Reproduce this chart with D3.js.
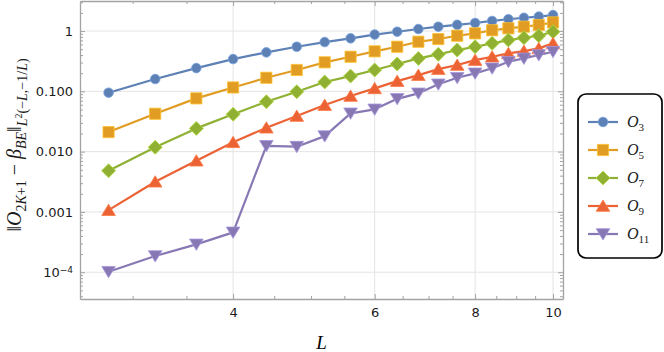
<!DOCTYPE html>
<html>
<head>
<meta charset="utf-8">
<script src="https://cdn.jsdelivr.net/npm/d3@7"></script>
<style>
  body { margin: 0; background: #fff; }
  svg { display: block; }
</style>
</head>
<body>
<div id="chartDiv"></div>
<script>
// system sizes
var L_vals = [2.8, 3.2, 3.6, 4.0, 4.4, 4.8, 5.2, 5.6, 6.0, 6.4, 6.8, 7.2, 7.6, 8.0, 8.4, 8.8, 9.2, 9.6, 10.0];

// error norms
var O3  = [0.095, 0.160, 0.243, 0.343, 0.443, 0.549, 0.657, 0.757, 0.875, 0.974, 1.08, 1.18, 1.27, 1.36, 1.47, 1.57, 1.66, 1.74, 1.84];
var O5  = [0.0211, 0.0425, 0.0765, 0.116, 0.168, 0.226, 0.303, 0.375, 0.461, 0.549, 0.665, 0.737, 0.836, 0.916, 1.03, 1.11, 1.18, 1.26, 1.39];
var O7  = [0.00482, 0.0118, 0.0243, 0.0416, 0.0672, 0.0985, 0.143, 0.179, 0.226, 0.284, 0.352, 0.411, 0.484, 0.549, 0.625, 0.709, 0.774, 0.836, 0.974];
var O9  = [0.00107, 0.00317, 0.00707, 0.0143, 0.0249, 0.0389, 0.0592, 0.0835, 0.112, 0.148, 0.186, 0.234, 0.273, 0.330, 0.375, 0.427, 0.466, 0.516, 0.625];
var O11 = [0.000102, 0.000186, 0.000290, 0.000459, 0.0125, 0.0121, 0.0181, 0.0432, 0.0503, 0.0751, 0.0927, 0.131, 0.168, 0.199, 0.241, 0.310, 0.352, 0.400, 0.454];

var seriesSubs = ["3", "5", "7", "9", "11"];
var seriesColors = ["#5e81b5", "#e19c24", "#8fb032", "#eb6235", "#8778b3"];

var xTicks = [4, 6, 8, 10];
var xMinorTicks = [3, 3.5, 4.5, 5, 5.5, 6.5, 7, 7.5, 8.5, 9, 9.5];
var yTicks = [1, 0.1, 0.01, 0.001, 1e-4];
var yTickLabels = ["1", "0.100", "0.010", "0.001", "10-4"];

var allSeries = [O3, O5, O7, O9, O11];

var width = 664, height = 352;
var margin = {top: 1, right: 101, bottom: 53, left: 80};

var svg = d3.select("#chartDiv").append("svg")
    .attr("width", width)
    .attr("height", height);

var x_scale = d3.scaleLog()
    .domain([2.58, 10.29])
    .range([margin.left, width - margin.right]);

var y_scale = d3.scaleLog()
    .domain([3.6e-5, 3.15])
    .range([height - margin.bottom, margin.top]);

// minor y ticks (2..9 per decade)
var yMinorTicks = [];
for (var e = -5; e <= 0; e++) {
  for (var m = 2; m <= 9; m++) {
    var v = m * Math.pow(10, e);
    if (v > 3.6e-5 && v < 3.15) yMinorTicks.push(v);
  }
}

var x0 = margin.left, x1 = width - margin.right;
var y0 = height - margin.bottom, y1 = margin.top;

// grid
var grid = svg.append("g").attr("class", "grid");
grid.selectAll(".gx").data(xTicks).enter().append("line")
    .attr("x1", function(d){ return x_scale(d); })
    .attr("x2", function(d){ return x_scale(d); })
    .attr("y1", y0).attr("y2", y1)
    .attr("stroke", "#e4e4e4").attr("stroke-width", 1);
grid.selectAll(".gy").data(yTicks).enter().append("line")
    .attr("y1", function(d){ return y_scale(d); })
    .attr("y2", function(d){ return y_scale(d); })
    .attr("x1", x0).attr("x2", x1)
    .attr("stroke", "#e4e4e4").attr("stroke-width", 1);

// frame axes
var frameColor = "#a3a3a3";
function styleAxis(g) {
  g.select(".domain").attr("stroke", frameColor).attr("stroke-width", 1.3);
  g.selectAll(".tick line").attr("stroke", frameColor).attr("stroke-width", 1);
  g.selectAll(".tick text").attr("fill", "#1a1a1a")
      .style("font-family", "'DejaVu Sans', sans-serif").style("font-size", "13px");
}

var xBottom = svg.append("g").attr("transform", "translate(0," + y0 + ")")
    .call(d3.axisBottom(x_scale).tickValues(xTicks).tickSize(-5).tickPadding(9)
      .tickFormat(d3.format("d")).tickSizeOuter(0));
styleAxis(xBottom);
svg.append("g").attr("transform", "translate(0," + y0 + ")")
    .call(d3.axisBottom(x_scale).tickValues(xMinorTicks).tickSize(-3).tickFormat(""))
    .call(function(g){ g.select(".domain").remove(); styleAxis(g); });

var xTop = svg.append("g").attr("transform", "translate(0," + y1 + ")")
    .call(d3.axisTop(x_scale).tickValues(xTicks).tickSize(-5).tickFormat("").tickSizeOuter(0));
styleAxis(xTop);
svg.append("g").attr("transform", "translate(0," + y1 + ")")
    .call(d3.axisTop(x_scale).tickValues(xMinorTicks).tickSize(-3).tickFormat(""))
    .call(function(g){ g.select(".domain").remove(); styleAxis(g); });

var yLeft = svg.append("g").attr("transform", "translate(" + x0 + ",0)")
    .call(d3.axisLeft(y_scale).tickValues(yTicks).tickSize(-5).tickPadding(7)
      .tickFormat(function(d, i){ return yTickLabels[i]; }).tickSizeOuter(0));
styleAxis(yLeft);
svg.append("g").attr("transform", "translate(" + x0 + ",0)")
    .call(d3.axisLeft(y_scale).tickValues(yMinorTicks).tickSize(-3).tickFormat(""))
    .call(function(g){ g.select(".domain").remove(); styleAxis(g); });

var yRight = svg.append("g").attr("transform", "translate(" + x1 + ",0)")
    .call(d3.axisRight(y_scale).tickValues(yTicks).tickSize(-5).tickFormat("").tickSizeOuter(0));
styleAxis(yRight);
svg.append("g").attr("transform", "translate(" + x1 + ",0)")
    .call(d3.axisRight(y_scale).tickValues(yMinorTicks).tickSize(-3).tickFormat(""))
    .call(function(g){ g.select(".domain").remove(); styleAxis(g); });

// 10^-4 label with superscript
yLeft.selectAll(".tick text").each(function(d, i) {
  var lab = yTickLabels[i];
  if (lab.indexOf("-") > 0) {
    var t = d3.select(this).text("");
    t.append("tspan").text("10");
    t.append("tspan").text("\u2212" + lab.split("-")[1])
      .attr("dy", "-0.45em").style("font-size", "9px");
  }
});

// markers
var markerPaths = [
  d3.symbol(d3.symbolCircle, 72)(),
  "M-5.6,-5.6H5.6V5.6H-5.6Z",
  "M0,-7L7,0L0,7L-7,0Z",
  "M0,-6L6.8,5.3L-6.8,5.3Z",
  "M0,6L6.8,-5.3L-6.8,-5.3Z"
];

var line = d3.line()
    .x(function(d){ return x_scale(d[0]); })
    .y(function(d){ return y_scale(d[1]); });

var chart_g = svg.append("g").attr("class", "series");
allSeries.forEach(function(vals, si) {
  var pts = L_vals.map(function(l, i){ return [l, vals[i]]; });
  var g = chart_g.append("g");
  g.append("path").datum(pts)
      .attr("d", line)
      .attr("fill", "none")
      .attr("stroke", seriesColors[si])
      .attr("stroke-width", 2.2)
      .attr("stroke-linejoin", "round");
  g.selectAll(".pt").data(pts).enter().append("path")
      .attr("d", markerPaths[si])
      .attr("transform", function(d){ return "translate(" + x_scale(d[0]) + "," + y_scale(d[1]) + ")"; })
      .attr("fill", seriesColors[si])
      .attr("stroke", d3.color(seriesColors[si]).brighter(0.6))
      .attr("stroke-width", 0.8);
});

// axis titles
svg.append("text")
    .attr("x", (x0 + x1) / 2).attr("y", 349)
    .attr("text-anchor", "middle")
    .style("font-family", "'Liberation Serif', serif")
    .style("font-style", "italic").style("font-size", "19px")
    .text("L");

var yl = svg.append("text")
    .attr("transform", "translate(21,145) rotate(-90)")
    .attr("text-anchor", "middle")
    .style("font-family", "'Liberation Serif', serif")
    .style("font-size", "20px")
    .attr("fill", "#1a1a1a");
yl.append("tspan").text("\u2016");
yl.append("tspan").text("O").style("font-style", "italic");
yl.append("tspan").text("2").attr("dy", 5).style("font-size", "14px");
yl.append("tspan").text("K").style("font-size", "14px").style("font-style", "italic");
yl.append("tspan").text("+1").style("font-size", "14px");
yl.append("tspan").text(" \u2212 ").attr("dy", -5);
yl.append("tspan").text("\u03b2").style("font-style", "italic");
yl.append("tspan").text("BE").attr("dy", 5).style("font-size", "14px").style("font-style", "italic");
yl.append("tspan").text("\u2016").attr("dy", -5);
yl.append("tspan").text("L").attr("dy", 6).style("font-size", "14px").style("font-style", "italic");
yl.append("tspan").text("2").attr("dy", -5).style("font-size", "10px");
yl.append("tspan").text("(\u2212").attr("dy", 5).style("font-size", "14px");
yl.append("tspan").text("L").style("font-size", "14px").style("font-style", "italic");
yl.append("tspan").text(",\u22121/").style("font-size", "14px");
yl.append("tspan").text("L").style("font-size", "14px").style("font-style", "italic");
yl.append("tspan").text(")").style("font-size", "14px");

// legend
var legend = svg.append("g").attr("class", "legend");
legend.append("rect")
    .attr("x", 578).attr("y", 94).attr("width", 84).attr("height", 164)
    .attr("rx", 8).attr("ry", 8)
    .attr("fill", "#fff").attr("stroke", "#000").attr("stroke-width", 1.7);

var legendY = d3.scalePoint().domain(seriesSubs).range([122, 234]);
seriesSubs.forEach(function(s, si) {
  var ly = legendY(s);
  legend.append("line")
      .attr("x1", 588).attr("x2", 618).attr("y1", ly).attr("y2", ly)
      .attr("stroke", seriesColors[si]).attr("stroke-width", 2.2);
  legend.append("path")
      .attr("d", markerPaths[si])
      .attr("transform", "translate(603," + ly + ")")
      .attr("fill", seriesColors[si])
      .attr("stroke", d3.color(seriesColors[si]).brighter(0.6))
      .attr("stroke-width", 0.8);
  var t = legend.append("text")
      .attr("x", 627).attr("y", ly + 5)
      .style("font-family", "'Liberation Serif', serif")
      .style("font-size", "16px").attr("fill", "#1a1a1a");
  t.append("tspan").text("O").style("font-style", "italic");
  t.append("tspan").text(s).attr("dy", 4).style("font-size", "11px");
});
</script>
</body>
</html>
